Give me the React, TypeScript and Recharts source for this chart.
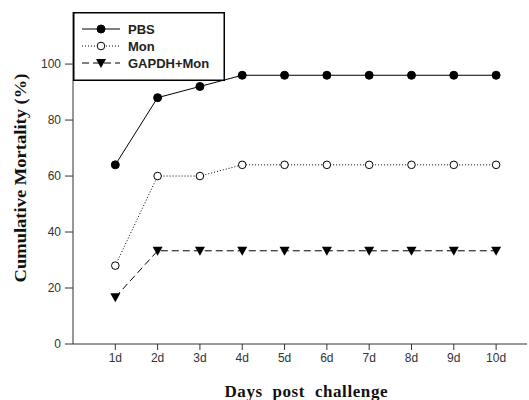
import React from "react";
import { Label, Line, LineChart, XAxis, YAxis } from "recharts";

const days = [1, 2, 3, 4, 5, 6, 7, 8, 9, 10];
const dayLabels = ["1d", "2d", "3d", "4d", "5d", "6d", "7d", "8d", "9d", "10d"];
const pbs = [64, 88, 92, 96, 96, 96, 96, 96, 96, 96];
const mon = [28, 60, 60, 64, 64, 64, 64, 64, 64, 64];
const gapdhMon = [16.7, 33.3, 33.3, 33.3, 33.3, 33.3, 33.3, 33.3, 33.3, 33.3];
const yTicks = [0, 20, 40, 60, 80, 100];

const data = days.map((d, i) => ({
  day: d,
  pbs: pbs[i],
  mon: mon[i],
  gapdhMon: gapdhMon[i],
}));

const axisColor = "#333";
const tickStyle = { fontFamily: "Liberation Sans, Arial", fontSize: 12, fill: "#333" };

function FilledDot(props: any) {
  const { cx, cy } = props;
  return <circle cx={cx} cy={cy} r={4} fill="#000" stroke="#000" />;
}

function OpenDot(props: any) {
  const { cx, cy } = props;
  return <circle cx={cx} cy={cy} r={3.8} fill="#fff" stroke="#000" strokeWidth={1} />;
}

function TriDot(props: any) {
  const { cx, cy } = props;
  return <polygon points={`${cx - 5},${cy - 4} ${cx + 5},${cy - 4} ${cx},${cy + 5}`} fill="#000" />;
}

const legendItems = [
  { name: "PBS", dash: undefined, marker: "filled" },
  { name: "Mon", dash: "1 2", marker: "open" },
  { name: "GAPDH+Mon", dash: "7 4", marker: "tri" },
];

function LegendBox() {
  return (
    <svg width={152} height={69} style={{ display: "block" }}>
      <rect x={0.75} y={0.75} width={150.5} height={67.5} fill="#fff" stroke="#000" strokeWidth={1.5} />
      {legendItems.map((it, i) => {
        const y = 17 + i * 17;
        return (
          <g key={it.name}>
            <line x1={9} x2={47} y1={y} y2={y} stroke="#000" strokeWidth={1} strokeDasharray={it.dash} />
            {it.marker === "filled" && <FilledDot cx={28} cy={y} />}
            {it.marker === "open" && <OpenDot cx={28} cy={y} />}
            {it.marker === "tri" && <TriDot cx={28} cy={y} />}
            <text x={55} y={y + 5} fontFamily="Liberation Sans, Arial" fontWeight="bold" fontSize={13} fill="#222">
              {it.name}
            </text>
          </g>
        );
      })}
    </svg>
  );
}

export default function App() {
  return (
    <div style={{ position: "absolute", left: 0, top: 0, width: 529, height: 400, background: "#fff" }}>
      <LineChart width={529} height={400} data={data} margin={{ top: 12, right: 2, bottom: 0, left: 0 }}>
        <XAxis
          dataKey="day"
          type="number"
          domain={[0, 10.73]}
          ticks={days}
          tickFormatter={(v: number) => dayLabels[v - 1]}
          stroke={axisColor}
          tickSize={6}
          tickMargin={3}
          tick={tickStyle}
          height={56}
          allowDataOverflow
        >
          <Label
            content={() => (
              <text
                x={306}
                y={397}
                textAnchor="middle"
                fontFamily="Liberation Serif, Times New Roman"
                fontWeight="bold"
                fontSize={17}
                wordSpacing={5}
                textLength={163}
                lengthAdjust="spacing"
                fill="#111"
              >
                Days post challenge
              </text>
            )}
          />
        </XAxis>
        <YAxis
          type="number"
          domain={[0, 118.6]}
          ticks={yTicks}
          stroke={axisColor}
          tickSize={8}
          tickMargin={4}
          tick={tickStyle}
          width={73}
          allowDataOverflow
        >
          <Label
            content={() => (
              <text
                x={26}
                y={178}
                transform="rotate(-90 26 178)"
                textAnchor="middle"
                fontFamily="Liberation Serif, Times New Roman"
                fontWeight="bold"
                fontSize={17}
                textLength={209}
                lengthAdjust="spacingAndGlyphs"
                fill="#111"
              >
                Cumulative Mortality (%)
              </text>
            )}
          />
        </YAxis>
        <Line
          dataKey="pbs"
          name="PBS"
          stroke="#000"
          strokeWidth={1}
          dot={<FilledDot />}
          isAnimationActive={false}
        />
        <Line
          dataKey="mon"
          name="Mon"
          stroke="#000"
          strokeWidth={1}
          strokeDasharray="1 2"
          dot={<OpenDot />}
          isAnimationActive={false}
        />
        <Line
          dataKey="gapdhMon"
          name="GAPDH+Mon"
          stroke="#000"
          strokeWidth={1}
          strokeDasharray="7 4"
          dot={<TriDot />}
          isAnimationActive={false}
        />
      </LineChart>
      <div style={{ position: "absolute", left: 73, top: 12 }}>
        <LegendBox />
      </div>
    </div>
  );
}
